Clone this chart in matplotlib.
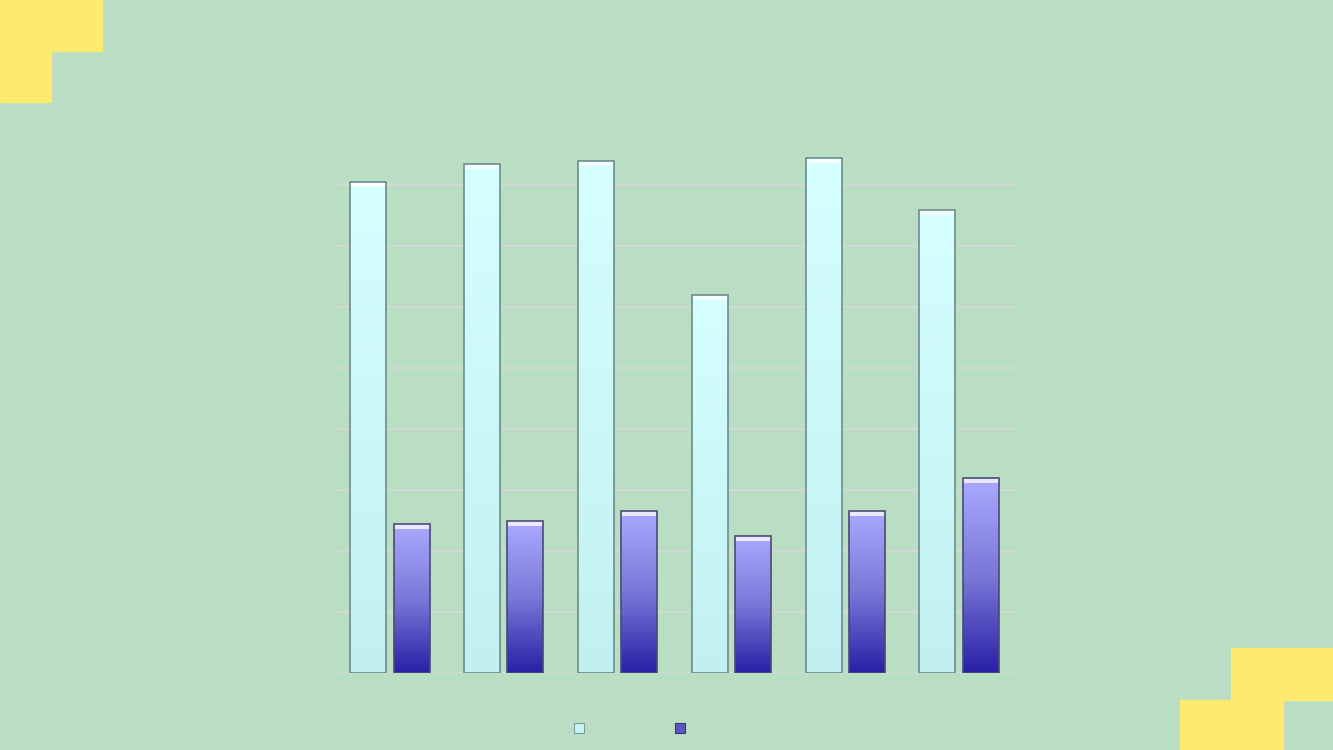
import numpy as np
import matplotlib.pyplot as plt
from matplotlib.patches import Rectangle
from matplotlib.colors import LinearSegmentedColormap

# values (no labels shown in the chart)
groups = ['1', '2', '3', '4', '5', '6']
series_a = [8.05, 8.34, 8.39, 6.20, 8.44, 7.59]
series_b = [2.44, 2.49, 2.66, 2.25, 2.66, 3.20]

bg = '#badec4'
yellow = '#ffe96e'

fig = plt.figure(figsize=(13.33, 7.5), dpi=100, facecolor=bg)

# yellow corner blocks (figure pixel coords)
W, H = 1333, 750
for x0, y0, w, h in [(0, 0, 102, 51), (0, 51, 51, 51),
                     (1231, 648, 102, 52), (1180, 700, 103, 50)]:
    fig.patches.append(Rectangle((x0 / W, 1 - (y0 + h) / H), w / W, h / H,
                                 transform=fig.transFigure, color=yellow, zorder=0))

ax = fig.add_axes([333 / W, 77 / H, 683 / W, 549 / H])
ax.set_facecolor('none')
ax.set_xlim(-0.5, len(groups) - 0.5)
ax.set_ylim(0, 9)
ax.set_yticks(np.arange(0, 10, 1))
ax.yaxis.grid(True, color='#d8d8d8', linewidth=1.2)
ax.set_axisbelow(True)
ax.tick_params(left=False, bottom=False, labelleft=False, labelbottom=False)
for s in ax.spines.values():
    s.set_visible(False)

cmap_a = LinearSegmentedColormap.from_list('a', ['#c2f0f0', '#d6ffff'])
cmap_b = LinearSegmentedColormap.from_list('b', ['#2820a6', '#7a78d8', '#abaaff'])
grad = np.linspace(0, 1, 256).reshape(-1, 1)

width = 0.316
offset = 0.19
x = np.arange(len(groups))


def draw_bars(xs, vals, cmap, edge):
    bars = ax.bar(xs, vals, width, color='none', edgecolor=edge, linewidth=1.2, zorder=3)
    for b in bars:
        bx, by = b.get_x(), b.get_y()
        bw, bh = b.get_width(), b.get_height()
        im = ax.imshow(grad, cmap=cmap, origin='lower', aspect='auto',
                       extent=[bx, bx + bw, by, by + bh], zorder=2)
        im.set_clip_path(b)
        # light bevel along the top
        ax.add_patch(Rectangle((bx, by + bh - 0.08), bw, 0.08,
                               color='white', alpha=0.75, zorder=2.5, lw=0))
    return bars


draw_bars(x - offset, series_a, cmap_a, '#6b8c8c')
draw_bars(x + offset, series_b, cmap_b, '#4a4a78')
ax.set_xlim(-0.5, len(groups) - 0.5)
ax.set_ylim(0, 9)

# legend markers only (no legend text in the chart)
fig.patches.append(Rectangle((574 / W, 1 - 733 / H), 10 / W, 10 / H,
                             transform=fig.transFigure, facecolor='#c8f4f4',
                             edgecolor='#7a9a9a', lw=0.8))
fig.patches.append(Rectangle((675 / W, 1 - 733 / H), 10 / W, 10 / H,
                             transform=fig.transFigure, facecolor='#5a56c0',
                             edgecolor='#3a3a70', lw=0.8))

fig.savefig('out.png', dpi=100, facecolor=bg)
